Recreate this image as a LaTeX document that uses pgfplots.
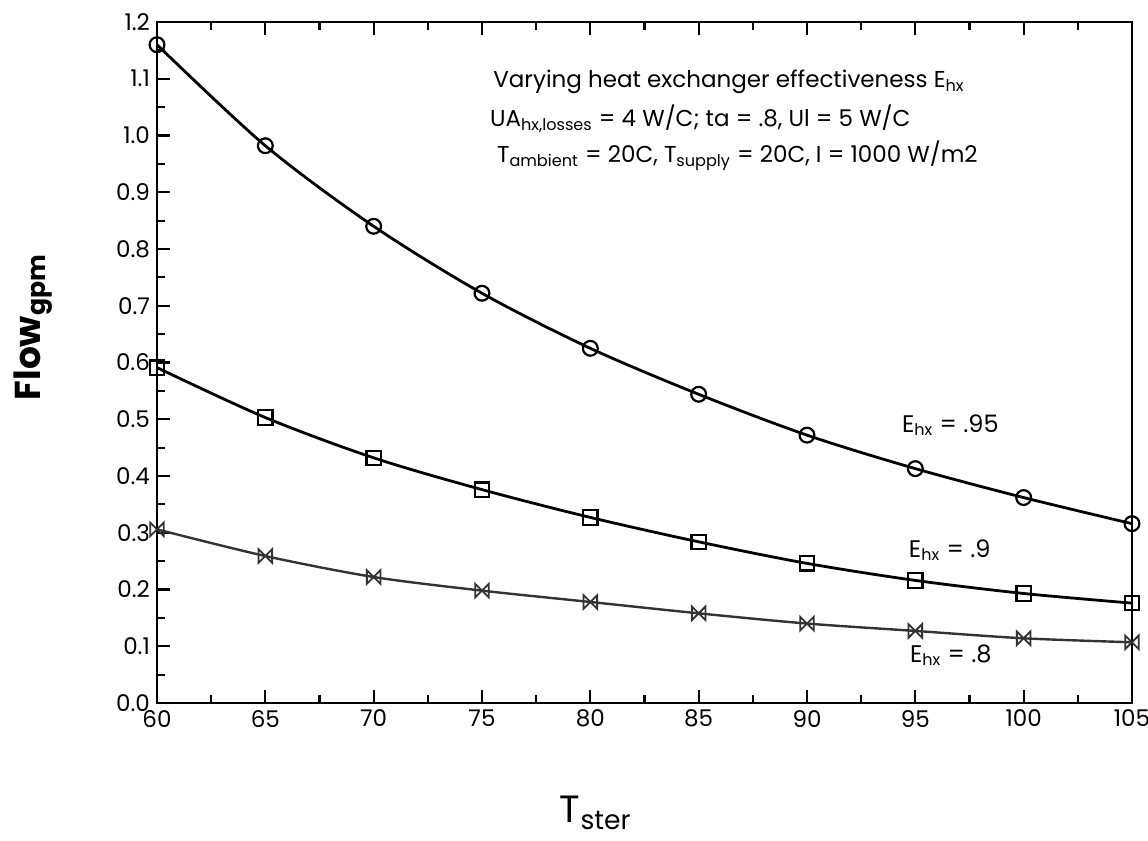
\documentclass[border=0pt]{standalone}
\usepackage{pgfplots}
\pgfplotsset{compat=1.18}
\usepackage{fontspec}
\setmainfont{Poppins}

\pgfdeclareplotmark{bowtie}{%
  \pgfpathmoveto{\pgfqpoint{-\pgfplotmarksize}{-\pgfplotmarksize}}%
  \pgfpathlineto{\pgfqpoint{\pgfplotmarksize}{\pgfplotmarksize}}%
  \pgfpathlineto{\pgfqpoint{\pgfplotmarksize}{-\pgfplotmarksize}}%
  \pgfpathlineto{\pgfqpoint{-\pgfplotmarksize}{\pgfplotmarksize}}%
  \pgfpathclose
  \pgfusepathqstroke}

\pgfplotstableread{
x y
60 1.160
65 0.982
70 0.840
75 0.722
80 0.625
85 0.544
90 0.472
95 0.413
100 0.362
105 0.316
}\tabA
\pgfplotstableread{
x y
60 0.591
65 0.503
70 0.432
75 0.376
80 0.327
85 0.284
90 0.246
95 0.216
100 0.193
105 0.176
}\tabB
\pgfplotstableread{
x y
60 0.306
65 0.259
70 0.222
75 0.198
80 0.178
85 0.158
90 0.140
95 0.127
100 0.114
105 0.107
}\tabC

\begin{document}
\begin{tikzpicture}
\path[use as bounding box] (-78.5pt,-69pt) rectangle (495.5pt,351.5pt);
\begin{axis}[
  at={(0pt,0pt)}, anchor=south west,
  scale only axis, width=487.5pt, height=340.5pt,
  xmin=60, xmax=105, ymin=0, ymax=1.2,
  xtick={60,65,70,75,80,85,90,95,100,105},
  ytick={0,0.1,0.2,0.3,0.4,0.5,0.6,0.7,0.8,0.9,1.0,1.1,1.2},
  minor x tick num=1, minor y tick num=1,
  xtick pos=both, xticklabel pos=lower, ytick pos=left,
  tick align=inside,
  major tick length=6.5pt, minor tick length=3.8pt,
  every tick/.style={black, line width=1.1pt},
  axis line style={line width=1.4pt},
  tick label style={font=\fontsize{11.5}{13}\selectfont},
  /pgf/number format/assume math mode=true,
  yticklabel style={/pgf/number format/.cd, fixed, fixed zerofill, precision=1},
  xticklabel style={/pgf/number format/.cd, fixed, precision=0},
  xlabel={\fontsize{19}{22}\selectfont T\textsubscript{ster}},
  xlabel style={at={(axis description cs:0.45,-0.176)}, anchor=base},
  ylabel={\fontsize{18}{21}\selectfont\bfseries Flow\textsubscript{gpm}},
  ylabel style={at={(axis description cs:-0.12,0.552)}, anchor=base, rotate=0},
  every axis plot/.append style={smooth},
]
\addplot[black, line width=1.4pt, mark=o, mark size=3.7pt, mark options={line width=1.1pt, fill=none}] table[x=x,y=y]{\tabA};
\addplot[black, line width=1.4pt, mark=square, mark size=3.6pt, mark options={line width=1.1pt, fill=none}] table[x=x,y=y]{\tabB};
\addplot[black!80, line width=1.2pt, mark=bowtie, mark size=3.4pt, mark options={line width=0.9pt}] table[x=x,y=y]{\tabC};

\node[anchor=base west, font=\fontsize{11.5}{13}\selectfont] at (axis cs:75.2,1.084) {Varying heat exchanger effectiveness E\textsubscript{hx}};
\node[anchor=base west, font=\fontsize{11.5}{13}\selectfont] at (axis cs:75.05,1.015) {UA\textsubscript{hx,losses} = 4 W/C; ta = .8, Ul = 5 W/C};
\node[anchor=base west, font=\fontsize{11.5}{13}\selectfont] at (axis cs:75.37,0.952) {T\textsubscript{ambient} = 20C, T\textsubscript{supply} = 20C, I = 1000 W/m2};
\node[anchor=base west, font=\fontsize{12}{14}\selectfont] at (axis cs:94.06,0.4775) {E\textsubscript{hx} = .95};
\node[anchor=base west, font=\fontsize{12}{14}\selectfont] at (axis cs:94.38,0.257) {E\textsubscript{hx} = .9};
\node[anchor=base west, font=\fontsize{12}{14}\selectfont] at (axis cs:94.43,0.072) {E\textsubscript{hx} = .8};
\end{axis}
\end{tikzpicture}
\end{document}
